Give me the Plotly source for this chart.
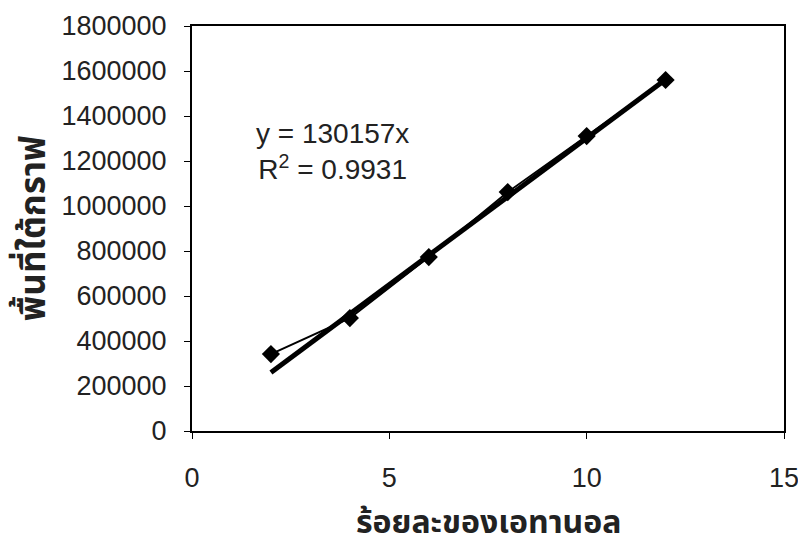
import plotly.graph_objects as go

ethanol_pct = [2, 4, 6, 8, 10, 12]
peak_area = [342000, 502000, 773000, 1062000, 1311000, 1560000]
slope = 130157
r_squared = 0.9931
trend_x = [2, 12]
trend_y = [slope * x for x in trend_x]

x_ticks = [0, 5, 10, 15]
y_ticks = list(range(0, 1800001, 200000))
y_tick_labels = [str(v) for v in y_ticks]

x_title = "ร้อยละของเอทานอล"
y_title = "พื้นที่ใต้กราฟ"

thai_font = "Noto Sans Thai, Loma, Garuda, Noto Sans, sans-serif"

fig = go.Figure()
fig.add_trace(go.Scatter(
    x=trend_x, y=trend_y, mode="lines",
    line=dict(color="black", width=5), showlegend=False))
fig.add_trace(go.Scatter(
    x=ethanol_pct, y=peak_area, mode="lines+markers",
    line=dict(color="black", width=2),
    marker=dict(symbol="diamond", size=14, color="black"),
    showlegend=False))

fig.add_annotation(x=0.238, y=0.69, xref="paper", yref="paper",
                   xanchor="center", yanchor="middle",
                   text=f"y = {slope}x<br>R<sup>2</sup> = {r_squared}",
                   showarrow=False, align="center",
                   font=dict(size=28, color="#222", family="Liberation Sans, Arial"))

fig.add_annotation(x=0.5, y=-0.228, xref="paper", yref="paper",
                   xanchor="center", yanchor="middle",
                   text=f"<b>{x_title}</b>", showarrow=False,
                   font=dict(size=32, color="#222", family=thai_font))

fig.update_layout(
    width=798, height=540,
    margin=dict(l=184, r=22, t=18, b=117),
    paper_bgcolor="white", plot_bgcolor="white",
    font=dict(family="Liberation Sans, Arial", color="#222"),
    xaxis=dict(range=[0, 15], tickvals=x_ticks, showline=True, linecolor="black",
               linewidth=2, mirror=True, ticks="outside", ticklen=6, tickwidth=1,
               tickcolor="black", showgrid=False, zeroline=False, automargin=False,
               tickfont=dict(size=27), ticklabelstandoff=16),
    yaxis=dict(range=[0, 1800000], tickvals=y_ticks, ticktext=y_tick_labels,
               showline=True, linecolor="black",
               linewidth=2, mirror=True, ticks="outside", ticklen=6, tickwidth=1,
               tickcolor="black", showgrid=False, zeroline=False, automargin=False,
               tickfont=dict(size=27), ticklabelstandoff=12,
               title=dict(text=f"<b>{y_title}</b>", standoff=6,
                          font=dict(size=35, family=thai_font))),
)

fig.write_html("out.html")
